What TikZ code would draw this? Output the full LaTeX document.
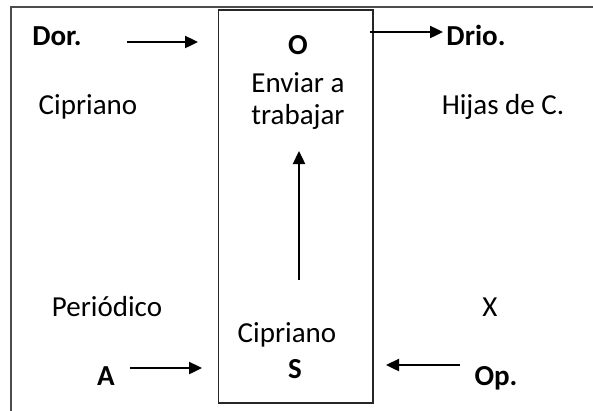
\documentclass[tikz,border=0pt]{standalone}
\usepackage{fontspec}
\setmainfont{Carlito}
\usetikzlibrary{arrows.meta}

\tikzset{
    lbl/.style={anchor=base, inner sep=0pt, font=\fontsize{29}{35}\selectfont},
    bl/.style={lbl, font=\fontsize{29}{35}\selectfont\bfseries},
    arr/.style={line width=2.4pt, -{Triangle[length=13pt, width=12pt]}}
}

\begin{document}
\begin{tikzpicture}[x=1pt, y=-1pt]
    \useasboundingbox (0, 0) rectangle (593, 410);

    % outer frame
    \draw[line width=2pt, black!70] (10.5, 412) -- (10.5, 6.5) -- (595, 6.5);
    % box
    \draw[line width=1.5pt, black!85] (218.5, 10) rectangle (373, 403);

    \node[bl] (dor) at (57, 45) {Dor.};
    \node[lbl] (cip1) at (88, 114) {Cipriano};
    \node[bl] (o) at (298, 54) {O};
    \node[lbl] (env) at (298, 92) {Enviar a};
    \node[lbl] (trab) at (298, 124) {trabajar};
    \node[bl] (drio) at (476, 45) {Drio.};
    \node[lbl] (hijas) at (503, 114) {Hijas de C.};

    \node[lbl] (per) at (107, 316) {Periódico};
    \node[lbl] (x) at (490, 316) {X};
    \node[lbl] (cip2) at (287, 342) {Cipriano};
    \node[bl] (s) at (295, 378) {S};
    \node[bl] (a) at (106, 385) {A};
    \node[bl] (op) at (496, 385) {Op.};

    \coordinate (d1) at (127, 42);
    \coordinate (d2) at (198, 42);
    \coordinate (r1) at (370, 32);
    \coordinate (r2) at (443, 32);
    \coordinate (a1) at (130, 368);
    \coordinate (a2) at (202, 368);
    \coordinate (p1) at (460, 365);
    \coordinate (p2) at (386, 365);
    \coordinate (u1) at (299, 280);
    \coordinate (u2) at (299, 151);

    \draw[arr] (d1) -- (d2);
    \draw[arr] (r1) -- (r2);
    \draw[arr] (a1) -- (a2);
    \draw[arr] (p1) -- (p2);
    \draw[arr] (u1) -- (u2);

\end{tikzpicture}
\end{document}
